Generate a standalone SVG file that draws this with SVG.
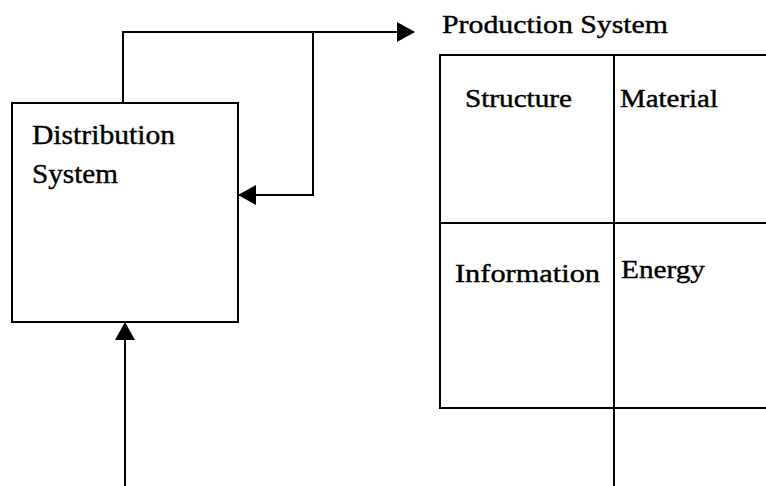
<svg xmlns="http://www.w3.org/2000/svg" width="766" height="486" viewBox="0 0 766 486">
<style>
.ln{fill:none;stroke:#000;stroke-width:2}
.bx{fill:#fff;stroke:#000;stroke-width:2}
.t{font-family:"Liberation Serif","Times New Roman",serif;font-size:25px;fill:#000;stroke:#000;stroke-width:0.4}
.tb{font-size:27px}
</style>
<defs>
<marker id="ah" markerWidth="18" markerHeight="20" refX="17" refY="10" orient="auto" markerUnits="userSpaceOnUse">
<path d="M0,0 L18,10 L0,20 Z" fill="#000"/>
</marker>
</defs>
<rect width="766" height="486" fill="#fff"/>
<g id="connectors">
<path class="ln" d="M123,103 V32 H414" marker-end="url(#ah)"/>
<path class="ln" d="M313,32 V195 H239" marker-end="url(#ah)"/>
<path class="ln" d="M125,486 V323" marker-end="url(#ah)"/>
</g>
<g id="distribution">
<rect class="bx" x="12" y="103" width="226" height="219"/>
<text class="t tb" x="32" y="144" textLength="143" lengthAdjust="spacingAndGlyphs">Distribution</text>
<text class="t tb" x="32" y="183" textLength="86" lengthAdjust="spacingAndGlyphs">System</text>
</g>
<g id="production">
<text class="t" x="442" y="33" textLength="226" lengthAdjust="spacingAndGlyphs">Production System</text>
<path class="ln" d="M767,55 H440 V408 H767 M440,223 H767 M614,55 V486"/>
</g>
<g id="structure"><text class="t" x="465" y="107" textLength="107" lengthAdjust="spacingAndGlyphs">Structure</text></g>
<g id="material"><text class="t" x="620" y="107" textLength="98" lengthAdjust="spacingAndGlyphs">Material</text></g>
<g id="information"><text class="t" x="455" y="282" textLength="145" lengthAdjust="spacingAndGlyphs">Information</text></g>
<g id="energy"><text class="t" x="621" y="278" textLength="84" lengthAdjust="spacingAndGlyphs">Energy</text></g>
</svg>
